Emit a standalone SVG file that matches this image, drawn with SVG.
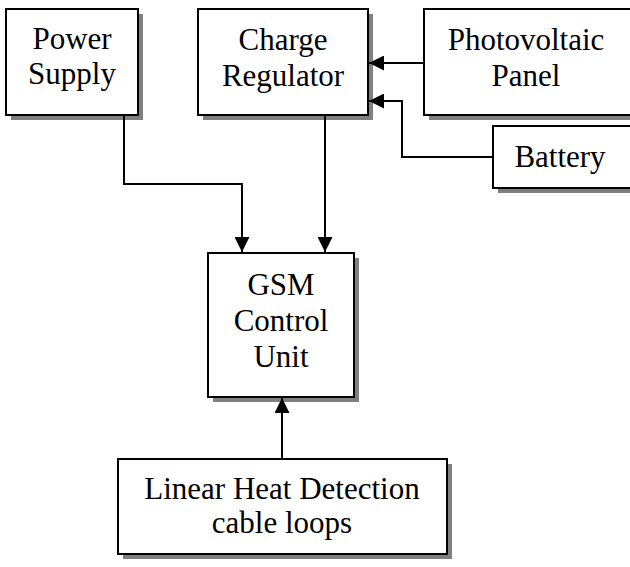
<svg xmlns="http://www.w3.org/2000/svg" width="630" height="567" viewBox="0 0 630 567">
<style>
.box{fill:#fff;stroke:#000;stroke-width:2}
.sh{fill:#808080}
.t{font-family:"Liberation Serif","Times New Roman",serif;font-size:31px;fill:#000;text-anchor:middle}
.c{fill:none;stroke:#000;stroke-width:2}
</style>
<defs>
<marker id="ah" viewBox="0 0 15 15" refX="15" refY="7.5" markerWidth="15" markerHeight="15" markerUnits="userSpaceOnUse" orient="auto">
<path d="M0,0 L15,7.5 L0,15 Z" fill="#000"/>
</marker>
</defs>
<g id="power-supply">
<rect class="sh" x="11" y="14" width="132" height="106"/>
<rect class="box" x="6" y="9" width="132" height="106"/>
<text class="t" x="72" y="49">Power</text>
<text class="t" x="72" y="84">Supply</text>
</g>
<g id="charge-regulator">
<rect class="sh" x="203" y="14" width="170" height="106"/>
<rect class="box" x="198" y="9" width="170" height="106"/>
<text class="t" x="283" y="50">Charge</text>
<text class="t" x="283" y="86">Regulator</text>
</g>
<g id="photovoltaic-panel">
<rect class="sh" x="429" y="14" width="220" height="106"/>
<rect class="box" x="424" y="9" width="215" height="106"/>
<text class="t" x="526" y="50">Photovoltaic</text>
<text class="t" x="526" y="86">Panel</text>
</g>
<g id="battery">
<rect class="sh" x="498" y="131" width="150" height="62"/>
<rect class="box" x="493" y="126" width="145" height="62"/>
<text class="t" x="560" y="167">Battery</text>
</g>
<g id="gsm-control-unit">
<rect class="sh" x="213" y="258" width="146" height="144"/>
<rect class="box" x="208" y="253" width="146" height="144"/>
<text class="t" x="281" y="295">GSM</text>
<text class="t" x="281" y="331">Control</text>
<text class="t" x="281" y="367">Unit</text>
</g>
<g id="linear-heat-detection">
<rect class="sh" x="123" y="464" width="329" height="95"/>
<rect class="box" x="118" y="459" width="329" height="95"/>
<text class="t" x="282" y="499">Linear Heat Detection</text>
<text class="t" x="282" y="533">cable loops</text>
</g>
<g id="connectors">
<path class="c" d="M424,63 H369" marker-end="url(#ah)"/>
<path class="c" d="M493,157 H402 V101 H369" marker-end="url(#ah)"/>
<path class="c" d="M124,115 V184 H242 V252" marker-end="url(#ah)"/>
<path class="c" d="M325,115 V252" marker-end="url(#ah)"/>
<path class="c" d="M282,459 V398" marker-end="url(#ah)"/>
</g>
</svg>
